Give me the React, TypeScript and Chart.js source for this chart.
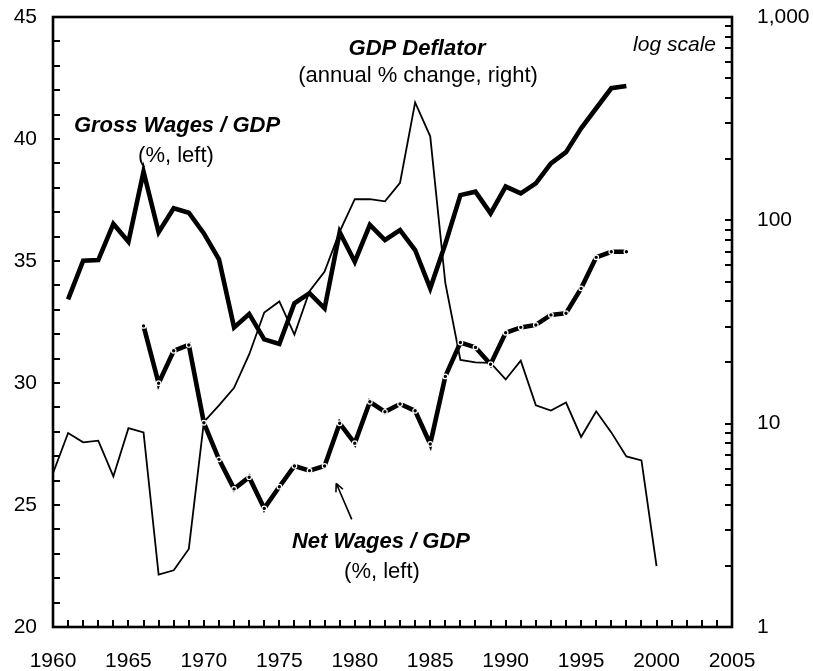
import React, { useEffect, useRef } from "react";
import { Chart, registerables } from "chart.js";

Chart.register(...registerables);

// ---- Data ----
const grossYears = [
  1961, 1962, 1963, 1964, 1965, 1966, 1967, 1968, 1969, 1970,
  1971, 1972, 1973, 1974, 1975, 1976, 1977, 1978, 1979, 1980,
  1981, 1982, 1983, 1984, 1985, 1986, 1987, 1988, 1989, 1990,
  1991, 1992, 1993, 1994, 1995, 1996, 1997, 1998,
];
const grossWages = [
  33.43, 35.01, 35.04, 36.52, 35.79, 38.66, 36.18, 37.16, 36.98, 36.13,
  35.07, 32.28, 32.83, 31.79, 31.6, 33.27, 33.68, 33.06, 36.18, 34.97,
  36.48, 35.86, 36.27, 35.45, 33.88, 35.7, 37.7, 37.84, 36.95, 38.05,
  37.77, 38.18, 39.0, 39.46, 40.44, 41.26, 42.08, 42.17,
];

const netYears = [
  1966, 1967, 1968, 1969, 1970, 1971, 1972, 1973, 1974, 1975,
  1976, 1977, 1978, 1979, 1980, 1981, 1982, 1983, 1984, 1985,
  1986, 1987, 1988, 1989, 1990, 1991, 1992, 1993, 1994, 1995,
  1996, 1997, 1998,
];
const netWages = [
  32.34, 29.99, 31.32, 31.56, 28.37, 26.87, 25.66, 26.14, 24.86, 25.75,
  26.6, 26.41, 26.6, 28.35, 27.53, 29.23, 28.82, 29.14, 28.86, 27.5,
  30.27, 31.66, 31.46, 30.77, 32.06, 32.28, 32.38, 32.79, 32.86, 33.88,
  35.15, 35.38, 35.38,
];

const deflatorYears = [
  1960, 1961, 1962, 1963, 1964, 1965, 1966, 1967, 1968, 1969,
  1970, 1971, 1972, 1973, 1974, 1975, 1976, 1977, 1978, 1979,
  1980, 1981, 1982, 1983, 1984, 1985, 1986, 1987, 1988, 1989,
  1990, 1991, 1992, 1993, 1994, 1995, 1996, 1997, 1998, 1999,
  2000,
];
const gdpDeflator = [
  5.7, 9.0, 8.1, 8.25, 5.5, 9.5, 9.06, 1.81, 1.9, 2.42,
  10.2, 12.3, 15.0, 21.9, 35.2, 39.9, 27.4, 44.8, 56, 88,
  127, 127, 124, 153, 380, 259, 49.2, 20.6, 20.0, 19.9,
  16.5, 20.4, 12.3, 11.6, 12.7, 8.6, 11.5, 9.06, 6.9, 6.6,
  1.99,
];

const xTickYears = [1960, 1965, 1970, 1975, 1980, 1985, 1990, 1995, 2000, 2005];
const leftTicks = [20, 25, 30, 35, 40, 45];
const rightTicks = [1, 10, 100, 1000];

const FONT = "'Liberation Sans', Arial, Helvetica, sans-serif";

const pts = (xs: number[], ys: number[]) => xs.map((x, i) => ({ x, y: ys[i] }));

const zeroPad = (s: any) => {
  s.paddingTop = 0;
  s.paddingBottom = 0;
  s.paddingLeft = 0;
  s.paddingRight = 0;
};

const framePlugin = {
  id: "frameAndTicks",
  afterDatasetsDraw(chart: any) {
    const { ctx, chartArea } = chart;
    const { left, right, top, bottom } = chartArea;
    const xs = chart.scales.x;
    const ys = chart.scales.y;
    const y2 = chart.scales.y2;
    ctx.save();
    ctx.strokeStyle = "#000";
    ctx.lineCap = "butt";
    ctx.lineWidth = 2;
    ctx.beginPath();
    for (let yr = 1961; yr < 2005; yr++) {
      const px = Math.round(xs.getPixelForValue(yr));
      ctx.moveTo(px, bottom);
      ctx.lineTo(px, bottom - 7);
    }
    for (let v = 21; v < 45; v++) {
      const py = Math.round(ys.getPixelForValue(v));
      ctx.moveTo(left, py);
      ctx.lineTo(left + 7, py);
    }
    for (let d = 1; d <= 100; d *= 10) {
      for (let m = 1; m <= 9; m++) {
        const v = d * m;
        if (v === 1) continue;
        const py = Math.round(y2.getPixelForValue(v));
        ctx.moveTo(right, py);
        ctx.lineTo(right - 7, py);
      }
    }
    ctx.stroke();
    ctx.lineWidth = 2.6;
    ctx.strokeRect(left, top, right - left, bottom - top);
    ctx.restore();
  },
  afterDraw(chart: any) {
    const { ctx } = chart;
    const xs = chart.scales.x;
    const ys = chart.scales.y;
    const X = (v: number) => xs.getPixelForValue(v);
    const Y = (v: number) => ys.getPixelForValue(v);
    ctx.save();
    ctx.fillStyle = "#000";
    ctx.textBaseline = "middle";
    const txt = (s: string, x: number, y: number, font: string, align: CanvasTextAlign = "center") => {
      ctx.font = font;
      ctx.textAlign = align;
      ctx.fillText(s, x, y);
    };
    const bi = `italic bold 22px ${FONT}`;
    const rg = `22px ${FONT}`;
    txt("GDP Deflator", 417, 49, bi);
    txt("(annual % change, right)", 418, 76, rg);
    txt("log scale", 716, 45, `italic 21px ${FONT}`, "right");
    txt("Gross Wages / GDP", 177, 126, bi);
    txt("(%, left)", 176, 156, rg);
    txt("Net Wages / GDP", 381, 542, bi);
    txt("(%, left)", 382, 572, rg);
    const x1 = X(1979.8), y1 = Y(24.41);
    const x2 = X(1978.77), y2p = Y(25.89);
    ctx.strokeStyle = "#000";
    ctx.lineWidth = 1.6;
    ctx.beginPath();
    ctx.moveTo(x1, y1);
    ctx.lineTo(x2, y2p);
    const ang = Math.atan2(y2p - y1, x2 - x1);
    const L = 9;
    const a = (25 * Math.PI) / 180;
    ctx.moveTo(x2, y2p);
    ctx.lineTo(x2 - L * Math.cos(ang - a), y2p - L * Math.sin(ang - a));
    ctx.moveTo(x2, y2p);
    ctx.lineTo(x2 - L * Math.cos(ang + a), y2p - L * Math.sin(ang + a));
    ctx.stroke();
    ctx.restore();
  },
};

export default function App() {
  const ref = useRef<HTMLCanvasElement | null>(null);
  useEffect(() => {
    if (!ref.current) return;
    const chart = new Chart(ref.current, {
      type: "line",
      data: {
        datasets: [
          {
            label: "Net Wages / GDP",
            data: pts(netYears, netWages),
            yAxisID: "y",
            borderColor: "#000",
            borderWidth: 4.6,
            pointRadius: 2.3,
            pointBackgroundColor: "#000",
            pointBorderColor: "#fff",
            pointBorderWidth: 1.2,
            tension: 0,
          },
          {
            label: "Gross Wages / GDP",
            data: pts(grossYears, grossWages),
            yAxisID: "y",
            borderColor: "#000",
            borderWidth: 4.6,
            pointRadius: 0,
            tension: 0,
          },
          {
            label: "GDP Deflator",
            data: pts(deflatorYears, gdpDeflator),
            yAxisID: "y2",
            borderColor: "#000",
            borderWidth: 1.8,
            pointRadius: 0,
            tension: 0,
          },
        ],
      },
      options: {
        responsive: false,
        animation: false,
        devicePixelRatio: 1,
        layout: { padding: { top: 17, left: 0, right: 0, bottom: 0 } },
        plugins: { legend: { display: false }, tooltip: { enabled: false } },
        scales: {
          x: {
            type: "linear",
            min: 1960,
            max: 2005,
            grid: { display: false, drawTicks: false },
            border: { display: false },
            afterBuildTicks: (s: any) => {
              s.ticks = xTickYears.map((v) => ({ value: v }));
            },
            ticks: {
              color: "#000",
              font: { family: FONT, size: 21 },
              padding: 22,
              maxRotation: 0,
              autoSkip: false,
              callback: (v: any) => String(v),
            },
            afterFit: (s: any) => {
              s.height = 44;
              zeroPad(s);
            },
          },
          y: {
            type: "linear",
            position: "left",
            min: 20,
            max: 45,
            grid: { display: false, drawTicks: false },
            border: { display: false },
            afterBuildTicks: (s: any) => {
              s.ticks = leftTicks.map((v) => ({ value: v }));
            },
            ticks: {
              color: "#000",
              font: { family: FONT, size: 21 },
              padding: 16,
              callback: (v: any) => String(v),
            },
            afterFit: (s: any) => {
              s.width = 53;
              zeroPad(s);
            },
          },
          y2: {
            type: "logarithmic",
            position: "right",
            min: 1,
            max: 1000,
            grid: { display: false, drawTicks: false },
            border: { display: false },
            afterBuildTicks: (s: any) => {
              s.ticks = rightTicks.map((v) => ({ value: v }));
            },
            ticks: {
              color: "#000",
              font: { family: FONT, size: 21 },
              padding: 25,
              autoSkip: false,
              callback: (v: any) => Number(v).toLocaleString("en-US"),
            },
            afterFit: (s: any) => {
              s.width = 81;
              zeroPad(s);
            },
          },
        },
      } as any,
      plugins: [framePlugin],
    });
    return () => chart.destroy();
  }, []);
  return (
    <div style={{ position: "fixed", left: 0, top: 0, width: 813, height: 671, background: "#fff" }}>
      <canvas ref={ref} width={813} height={671} style={{ display: "block" }} />
    </div>
  );
}
